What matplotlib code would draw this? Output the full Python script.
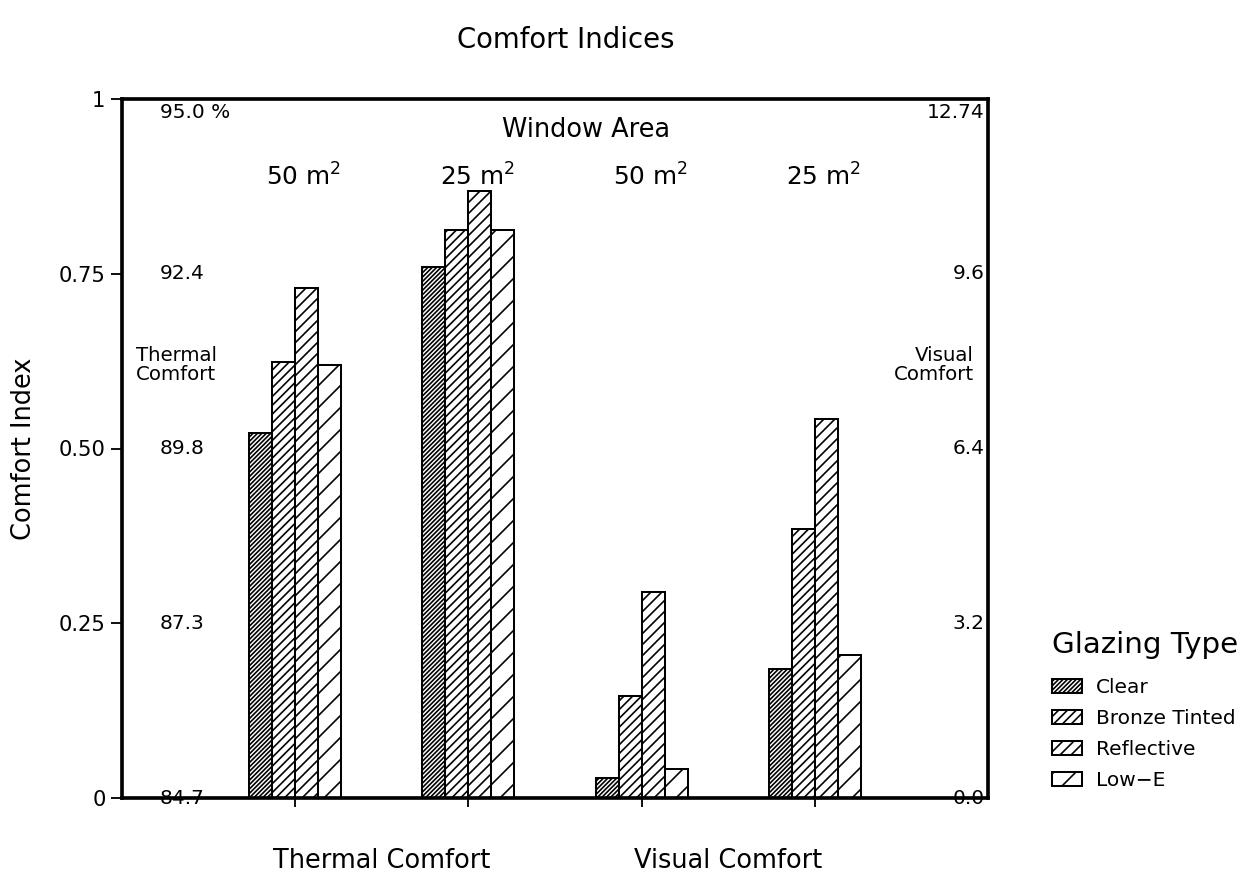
import matplotlib
matplotlib.use("Agg")
import matplotlib.pyplot as plt
import numpy as np

# ---- data ----
groups = ["50 m$^2$", "25 m$^2$", "50 m$^2$", "25 m$^2$"]
categories = ["Thermal Comfort", "Visual Comfort"]
glazing = ["Clear", "Bronze Tinted", "Reflective", "Low\u2212E"]
clear = [0.522, 0.760, 0.029, 0.184]
bronze = [0.624, 0.813, 0.146, 0.385]
reflective = [0.730, 0.869, 0.294, 0.542]
lowe = [0.620, 0.812, 0.042, 0.204]
left_ticks = [0, 0.25, 0.50, 0.75, 1]
left_tick_labels = ["0", "0.25", "0.50", "0.75", "1"]
thermal_labels = ["84.7", "87.3", "89.8", "92.4", "95.0 %"]
visual_labels = ["0.0", "3.2", "6.4", "9.6", "12.74"]

DPI = 132
plt.rcParams['font.family'] = ['DejaVu Sans']
plt.rcParams['hatch.color'] = 'black'
plt.rcParams['hatch.linewidth'] = 0.9

fig = plt.figure(figsize=(1254 / DPI, 876 / DPI), dpi=DPI)
ax = fig.add_axes([122 / 1254, 1 - 798 / 876, 866 / 1254, 699 / 876])

series = [clear, bronze, reflective, lowe]
hatches = ['//////////', '/////', '////', '//']
w = 0.133
x = np.arange(1, len(groups) + 1)
for i, (vals, h, lab) in enumerate(zip(series, hatches, glazing)):
    ax.bar(x + (i - 1.5) * w, vals, width=w, facecolor='white',
           edgecolor='black', hatch=h, linewidth=1.1, label=lab)

ax.set_xlim(0, 5)
ax.set_ylim(0, 1)
for s in ax.spines.values():
    s.set_linewidth(2.0)

ax.set_yticks(left_ticks)
ax.set_yticklabels(left_tick_labels, fontsize=11.5)
ax.tick_params(axis='y', direction='out', length=6, width=1, pad=3)
ax.set_xticks(x)
ax.set_xticklabels([])
ax.tick_params(axis='x', direction='out', length=5, width=1)
ax.set_ylabel("Comfort Index", fontsize=14, labelpad=12)

# inner secondary labels
for v, t in zip(left_ticks, thermal_labels):
    yy = 0.98 if v == 1 else v
    ax.text(0.22, yy, t, fontsize=11, ha='left', va='center')
for v, t in zip(left_ticks, visual_labels):
    yy = 0.98 if v == 1 else v
    ax.text(4.98, yy, t, fontsize=11, ha='right', va='center')

ax.text(0.08, 0.62, "Thermal\nComfort", fontsize=10.8, ha='left', va='center',
        linespacing=1.0)
ax.text(4.92, 0.62, "Visual\nComfort", fontsize=10.8, ha='right', va='center',
        linespacing=1.0)

ax.text(2.68, 0.955, "Window Area", fontsize=14, ha='center', va='center')
for xi, g in zip(x, groups):
    ax.text(xi + 0.05, 0.888, g, fontsize=13.5, ha='center', va='center')

for xi, c in zip([1.5, 3.5], categories):
    ax.text(xi, -0.09, c, fontsize=14, ha='center', va='center')

fig.text(566 / 1254, 1 - 40 / 876, "Comfort Indices", fontsize=15,
         ha='center', va='center')

fig.text(1052 / 1254, 1 - 645 / 876, "Glazing Type", fontsize=16,
         ha='left', va='center')
leg = fig.legend(loc='upper left', bbox_to_anchor=(1052 / 1254, 1 - 678 / 876),
                 frameon=False, fontsize=11, handlelength=1.5, handleheight=0.7,
                 handletextpad=0.7, labelspacing=0.6, borderpad=0.0,
                 borderaxespad=0.0)

fig.savefig("out.png", dpi=DPI)
